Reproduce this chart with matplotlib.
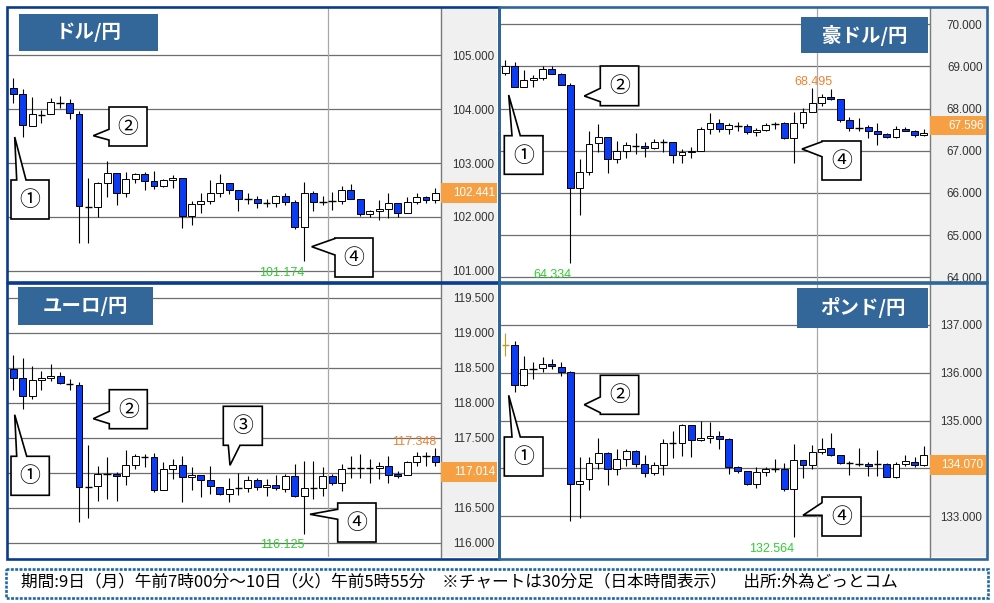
import matplotlib
matplotlib.use("Agg")
import matplotlib.pyplot as plt
from matplotlib.patches import Rectangle, Polygon
import matplotlib.transforms as mtrans
import pandas as pd
import numpy as np

plt.rcParams['font.family'] = ['Noto Sans CJK JP', 'DejaVu Sans']
AXF = ['Liberation Sans', 'DejaVu Sans']
CJK = ['Noto Sans CJK JP', 'DejaVu Sans']

# ---------------- data ----------------
times = pd.date_range('2020-03-09 07:00', '2020-03-10 05:30', freq='30min')

usd_o = [104.39,104.28,103.69,103.90,103.91,104.12,104.11,103.91,102.19,102.18,102.62,102.81,102.44,102.70,102.79,102.67,102.58,102.68,102.73,102.02,102.24,102.30,102.44,102.63,102.50,102.33,102.33,102.26,102.26,102.39,102.28,101.82,102.44,102.28,102.30,102.30,102.49,102.34,102.05,102.11,102.15,102.25,102.07,102.28,102.36,102.31]
usd_h = [104.57,104.37,104.23,103.98,104.21,104.25,104.19,103.96,102.72,102.65,103.04,102.81,102.83,102.81,102.84,102.85,102.70,102.78,102.73,102.30,102.45,102.68,102.80,102.63,102.50,102.44,102.38,102.34,102.41,102.45,102.31,102.64,102.48,102.38,102.47,102.57,102.61,102.34,102.13,102.31,102.45,102.25,102.37,102.45,102.39,102.54]
usd_l = [104.11,103.49,103.68,103.74,103.91,104.02,103.82,101.52,101.51,102.00,102.36,102.22,102.37,102.63,102.49,102.51,102.56,102.53,101.80,101.85,102.07,102.24,102.36,102.42,102.11,102.23,102.16,102.19,102.19,102.22,101.77,101.174,102.10,102.22,102.13,102.24,102.33,102.02,102.00,101.94,101.97,102.00,102.07,102.24,102.26,102.25]
usd_c = [104.29,103.70,103.91,103.90,104.13,104.12,103.92,102.20,102.19,102.62,102.81,102.44,102.70,102.79,102.67,102.58,102.68,102.73,102.02,102.24,102.30,102.44,102.63,102.50,102.34,102.33,102.26,102.26,102.39,102.28,101.82,102.44,102.28,102.28,102.30,102.49,102.34,102.05,102.11,102.15,102.25,102.07,102.28,102.36,102.31,102.441]
usd_ticks = [101.0, 102.0, 103.0, 104.0, 105.0]
usd_cur = 102.441

aud_o = [68.85,69.02,68.52,68.68,68.72,68.93,68.81,68.56,66.11,66.49,67.18,67.32,66.80,67.00,67.11,67.11,67.06,67.20,67.20,66.90,66.96,67.00,67.52,67.67,67.51,67.60,67.60,67.45,67.50,67.64,67.65,67.30,67.65,67.91,68.13,68.27,68.22,67.72,67.55,67.56,67.47,67.39,67.32,67.52,67.47,67.38]
aud_h = [69.15,69.10,68.92,68.80,69.00,69.00,68.85,68.60,66.80,67.48,67.64,67.32,67.24,67.22,67.43,67.22,67.27,67.27,67.20,67.04,67.10,67.57,67.89,67.76,67.65,67.69,67.64,67.53,67.65,67.69,67.68,67.93,68.01,68.495,68.35,68.46,68.24,67.79,67.77,67.61,67.65,67.43,67.60,67.57,67.49,67.51]
aud_l = [68.80,68.51,68.51,68.51,68.68,68.82,68.56,64.334,65.48,66.43,66.98,66.47,66.70,66.82,66.92,66.85,67.04,66.98,66.70,66.70,66.82,67.00,67.40,67.45,67.40,67.48,67.40,67.34,67.48,67.51,67.27,66.70,67.53,67.91,68.06,68.21,67.69,67.47,67.48,67.30,67.14,67.31,67.31,67.46,67.32,67.34]
aud_c = [69.00,68.52,68.68,68.72,68.93,68.82,68.56,66.11,66.49,67.16,67.32,66.80,67.00,67.14,67.11,67.06,67.22,67.20,66.90,66.96,67.00,67.52,67.67,67.51,67.61,67.60,67.45,67.50,67.61,67.64,67.30,67.65,67.91,68.13,68.27,68.22,67.72,67.55,67.55,67.48,67.39,67.32,67.52,67.48,67.38,67.42]
aud_ticks = [64.0, 65.0, 66.0, 67.0, 68.0, 69.0, 70.0]
aud_cur = 67.596

eur_o = [118.48,118.35,118.10,118.32,118.35,118.39,118.27,118.26,116.79,116.81,116.98,116.98,116.96,117.11,117.23,117.23,116.76,117.05,117.11,116.94,116.97,116.89,116.80,116.70,116.78,116.78,116.90,116.79,116.83,116.77,116.96,116.67,116.78,116.78,116.96,116.85,117.07,117.07,117.07,117.07,117.10,116.98,116.97,117.15,117.24,117.24]
eur_h = [118.68,118.64,118.52,118.45,118.55,118.44,118.34,118.30,117.39,117.09,117.22,117.01,117.32,117.27,117.27,117.28,117.16,117.19,117.24,117.08,116.97,117.10,116.80,116.92,117.00,116.96,116.93,116.91,116.97,116.98,117.13,117.17,117.17,117.08,116.98,117.13,117.24,117.27,117.19,117.15,117.24,117.02,117.17,117.30,117.30,117.348]
eur_l = [118.18,117.91,118.05,118.18,118.31,118.27,118.18,116.30,116.36,116.60,116.62,116.59,116.82,117.05,117.08,116.72,116.76,116.91,116.58,116.76,116.65,116.70,116.68,116.58,116.68,116.72,116.76,116.67,116.76,116.73,116.65,116.125,116.62,116.67,116.82,116.74,116.93,116.93,116.85,116.91,116.85,116.93,116.97,117.09,117.10,117.09]
eur_c = [118.35,118.10,118.32,118.35,118.39,118.28,118.27,116.79,116.79,116.98,116.98,116.96,117.11,117.24,117.23,116.76,117.05,117.11,116.94,116.97,116.90,116.81,116.70,116.77,116.78,116.90,116.79,116.83,116.78,116.96,116.67,116.78,116.78,116.96,116.85,117.05,117.07,117.07,117.07,117.10,116.97,116.96,117.15,117.24,117.24,117.16]
eur_ticks = [116.0, 116.5, 117.0, 117.5, 118.0, 118.5, 119.0, 119.5]
eur_cur = 117.014

gbp_o = [136.58,136.57,135.75,136.08,136.10,136.17,136.12,136.01,133.68,133.77,134.12,134.33,133.98,134.20,134.36,134.10,133.90,134.08,134.53,134.53,134.90,134.59,134.63,134.67,134.62,134.03,133.94,133.67,133.93,133.98,133.99,133.56,134.18,134.08,134.34,134.43,134.27,134.11,134.09,134.10,134.09,134.09,133.83,134.09,134.13,134.08]
gbp_h = [136.83,136.65,136.35,136.22,136.32,136.28,136.23,136.03,134.24,134.24,134.63,134.34,134.41,134.41,134.38,134.27,134.13,134.62,134.79,134.93,134.91,134.98,134.97,134.79,134.63,134.06,133.94,134.03,134.03,134.20,134.12,134.50,134.18,134.48,134.63,134.73,134.27,134.15,134.43,134.13,134.38,134.11,134.13,134.27,134.24,134.46]
gbp_l = [136.35,135.59,135.72,135.86,136.01,136.07,135.92,132.90,132.97,133.54,133.99,133.65,133.87,134.06,134.03,133.82,133.86,133.87,134.22,134.26,134.24,134.57,134.54,134.41,133.89,133.91,133.66,133.59,133.84,133.93,133.52,132.564,133.79,133.99,134.31,134.26,134.10,133.87,134.06,133.84,133.84,133.82,133.79,134.05,134.03,134.05]
gbp_c = [136.58,135.75,136.07,136.08,136.17,136.13,136.01,133.68,133.74,134.12,134.33,133.98,134.20,134.36,134.10,133.90,134.08,134.53,134.53,134.90,134.59,134.63,134.67,134.62,134.03,133.94,133.67,133.93,133.98,133.98,133.56,134.18,134.08,134.34,134.40,134.27,134.12,134.11,134.09,134.06,134.09,133.83,134.09,134.15,134.08,134.29]
gbp_ticks = [133.0, 134.0, 135.0, 136.0, 137.0]
gbp_cur = 134.070

footer = '期間:9日（月）午前7時00分～10日（火）午前5時55分　※チャートは30分足（日本時間表示）　出所:外為どっとコム'

# ---------------- styles ----------------
NAVY = '#0B3B8C'
STEEL = '#2F6699'
TITLE_BG = '#336699'
ORANGE = '#F7A043'
BEAR = '#0A3CF5'
GREEN = '#33CC33'
HI_COL = '#F08030'

W, H = 994, 603
fig = plt.figure(figsize=(W / 100, H / 100), dpi=100)
fig.patch.set_facecolor('white')


def frect(x0, y0, x1, y1):
    return [x0 / W, 1 - y1 / H, (x1 - x0) / W, (y1 - y0) / H]


over = fig.add_axes([0, 0, 1, 1], zorder=20)
over.set_xlim(0, W)
over.set_ylim(H, 0)
over.axis('off')
over.patch.set_alpha(0)

day_break = [i - 0.5 for i in range(1, len(times)) if times[i].date() != times[i - 1].date()]


def draw_candles(ax, o, h, l, c, first_color=None):
    x = np.arange(len(o))
    o, h, l, c = map(np.asarray, (o, h, l, c))
    wick_cols = ['black'] * len(x)
    if first_color:
        wick_cols[0] = first_color
    ax.vlines(x, l, h, colors=wick_cols, lw=0.8, zorder=3)
    doji = np.abs(c - o) < 0.004
    body = ~doji
    bottoms = np.minimum(o, c)[body]
    heights = np.abs(c - o)[body]
    faces = np.where(c[body] >= o[body], 'white', BEAR)
    ax.bar(x[body], heights, bottom=bottoms, width=0.74, color=faces,
           edgecolor='black', linewidth=0.7, zorder=4)
    dcols = ['black'] * int(doji.sum())
    if first_color and doji[0]:
        dcols[0] = first_color
    ax.hlines(o[doji], x[doji] - 0.4, x[doji] + 0.4, colors=dcols, lw=1.0, zorder=4)


def callout(label, box, side, base, tip):
    x0, y0, x1, y1 = box
    b1, b2 = base
    if side == 'left':
        verts = [(x0, y0), (x1, y0), (x1, y1), (x0, y1), (x0, b2), tip, (x0, b1)]
    elif side == 'top':
        verts = [(x0, y0), (b1, y0), tip, (b2, y0), (x1, y0), (x1, y1), (x0, y1)]
    else:
        verts = [(x0, y0), (x1, y0), (x1, y1), (b2, y1), tip, (b1, y1), (x0, y1)]
    over.add_patch(Polygon(verts, closed=True, fc='white', ec='black', lw=1.2,
                           joinstyle='miter', zorder=5))
    over.text((x0 + x1) / 2, (y0 + y1) / 2 + 0.5, label, ha='center', va='center',
              fontsize=15, family=CJK, zorder=6)


panels = [
    dict(name='ドル/円', o=usd_o, h=usd_h, l=usd_l, c=usd_c, ticks=usd_ticks, cur=usd_cur,
         plot=(8, 8, 441, 281), price=(441, 497), ylim=(100.809, 105.879),
         border=NAVY, brect=(7, 6.5, 498.5, 282), tbox=(19, 14, 158, 51),
         show_hi=False, hi_ha='center', first_color=None,
         calls=[('①', (11, 180, 49, 219), 'top', (16.7, 26), (14.7, 137)),
                ('②', (109, 107, 147, 146), 'left', (129.3, 140), (93.3, 135.7)),
                ('④', (335, 238, 373, 277), 'left', (238.5, 255), (311.7, 246.7))]),
    dict(name='豪ドル/円', o=aud_o, h=aud_h, l=aud_l, c=aud_c, ticks=aud_ticks, cur=aud_cur,
         plot=(500, 8, 929.5, 281), price=(929.5, 985.5), ylim=(63.912, 70.387),
         border=STEEL, brect=(498.5, 6.5, 986.5, 282), tbox=(801, 17, 928, 53),
         show_hi=True, hi_ha='center', first_color=None,
         calls=[('①', (504.3, 135.7, 543, 174.3), 'top', (512, 520.3), (508.7, 95)),
                ('②', (600.3, 66, 638.7, 105.7), 'left', (88.3, 101.7), (584.3, 96)),
                ('④', (822, 141, 861, 180), 'left', (141.7, 156.7), (802, 149))]),
    dict(name='ユーロ/円', o=eur_o, h=eur_h, l=eur_l, c=eur_c, ticks=eur_ticks, cur=eur_cur,
         plot=(8, 284, 441, 557), price=(441, 497), ylim=(115.795, 119.70),
         border=NAVY, brect=(7, 283, 498.5, 558.5), tbox=(18, 287, 153, 325),
         show_hi=True, hi_ha='right', first_color=None,
         calls=[('①', (11, 456.3, 49.3, 495.3), 'top', (16.7, 26.7), (14.7, 414.7)),
                ('②', (109.3, 389.7, 147.3, 428.7), 'left', (411.3, 423.7), (93.3, 418.7)),
                ('③', (223.3, 406.3, 262.3, 445.3), 'bottom', (228.3, 240), (230, 465.3)),
                ('④', (337.7, 503, 376, 542), 'left', (509.3, 519.3), (310, 514.3))]),
    dict(name='ポンド/円', o=gbp_o, h=gbp_h, l=gbp_l, c=gbp_c, ticks=gbp_ticks, cur=gbp_cur,
         plot=(500, 284, 929.5, 557), price=(929.5, 985.5), ylim=(132.15, 137.85),
         border=STEEL, brect=(498.5, 283, 986.5, 558.5), tbox=(797, 288, 928, 328),
         show_hi=False, hi_ha='center', first_color='#C89A10',
         calls=[('①', (504.3, 437, 543, 476), 'top', (512, 520.3), (508.7, 395.3)),
                ('②', (600.3, 375.3, 638.7, 414.3), 'left', (397, 412.7), (584.3, 404.7)),
                ('④', (822, 497, 861, 536), 'left', (502.7, 515.3), (803, 515.3))]),
]

n = len(times)
for p in panels:
    x0, y0, x1, y1 = p['plot']
    ax = fig.add_axes(frect(x0, y0, x1, y1), zorder=2)
    ax.set_facecolor('white')
    ax.set_xlim(-0.57, n - 1 + 0.6)
    ax.set_ylim(*p['ylim'])
    for s in ax.spines.values():
        s.set_visible(False)
    ax.set_xticks([])
    ax.set_yticks([])
    for t in p['ticks']:
        ax.axhline(t, color='#6E6E6E', lw=0.9, zorder=1)
    for d in day_break:
        ax.axvline(d, color='#A8A8A8', lw=0.9, zorder=1)
    draw_candles(ax, p['o'], p['h'], p['l'], p['c'], p['first_color'])

    lows = np.asarray(p['l'])
    il = int(lows.argmin())
    ax.annotate(f'{lows[il]:.3f}', (il, lows[il]), xytext=(0.5, -4.0),
                textcoords='offset points', ha='right', va='top',
                color=GREEN, fontsize=9, family=AXF, zorder=6)
    if p['show_hi']:
        highs = np.asarray(p['h'])
        ih = il + 1 + int(highs[il + 1:].argmax())   # highest point after the low bar
        ax.annotate(f'{highs[ih]:.3f}', (ih, highs[ih]), xytext=(0.5, 0),
                    textcoords='offset points', ha=p['hi_ha'], va='bottom',
                    color=HI_COL, fontsize=9, family=AXF, zorder=6)

    # price axis
    px0, px1 = p['price']
    ppu = (y1 - y0) / (p['ylim'][1] - p['ylim'][0])
    axp = fig.add_axes(frect(px0, y0, px1, y1), zorder=3)
    axp.set_facecolor('#F0F0F0')
    axp.set_ylim(*p['ylim'])
    axp.set_xlim(0, 1)
    axp.set_xticks([])
    for k, s in axp.spines.items():
        s.set_visible(k == 'left')
    axp.spines['left'].set_color('#7A7A7A')
    axp.spines['left'].set_linewidth(1.0)
    axp.yaxis.tick_right()
    axp.set_yticks(p['ticks'])
    axp.set_yticklabels(['' if abs(t - p['cur']) * ppu < 15 else f'{t:.3f}' for t in p['ticks']])
    axp.tick_params(axis='y', length=0, pad=-2.2, labelsize=8.4, labelcolor='#333333')
    for lab in axp.get_yticklabels():
        lab.set_horizontalalignment('right')
        lab.set_family(AXF)
    # current price label
    hh = 19.5 / ppu
    trans = mtrans.blended_transform_factory(axp.transAxes, axp.transData)
    axp.add_patch(Rectangle((0, p['cur'] - hh / 2), 1, hh, transform=trans,
                            fc=ORANGE, ec='none', zorder=5, clip_on=False))
    axp.text(0.965, p['cur'], f'{p["cur"]:.3f}', transform=trans, ha='right',
             va='center', color='white', fontsize=8.4, family=AXF, zorder=6)

    # border
    bx0, by0, bx1, by1 = p['brect']
    over.add_patch(Rectangle((bx0, by0), bx1 - bx0, by1 - by0, fc='none',
                             ec=p['border'], lw=1.9, zorder=3))
    # title
    tx0, ty0, tx1, ty1 = p['tbox']
    over.add_patch(Rectangle((tx0, ty0), tx1 - tx0, ty1 - ty0, fc=TITLE_BG, ec='none', zorder=4))
    over.text((tx0 + tx1) / 2, (ty0 + ty1) / 2, p['name'], ha='center', va='center',
              color='white', fontsize=14, fontweight='bold', family=CJK, zorder=5)
    for cl in p['calls']:
        callout(*cl)

# footer
over.add_patch(Rectangle((5.5, 568.5), 982.5, 29.5, fc='none', ec='#1F6AA5', lw=1.9,
                         linestyle=(0, (1.1, 0.55)), zorder=3))
over.text(21, 582, footer, ha='left', va='center', fontsize=12, family=CJK, color='black', zorder=5)

fig.savefig('out.png', dpi=100, facecolor='white')
